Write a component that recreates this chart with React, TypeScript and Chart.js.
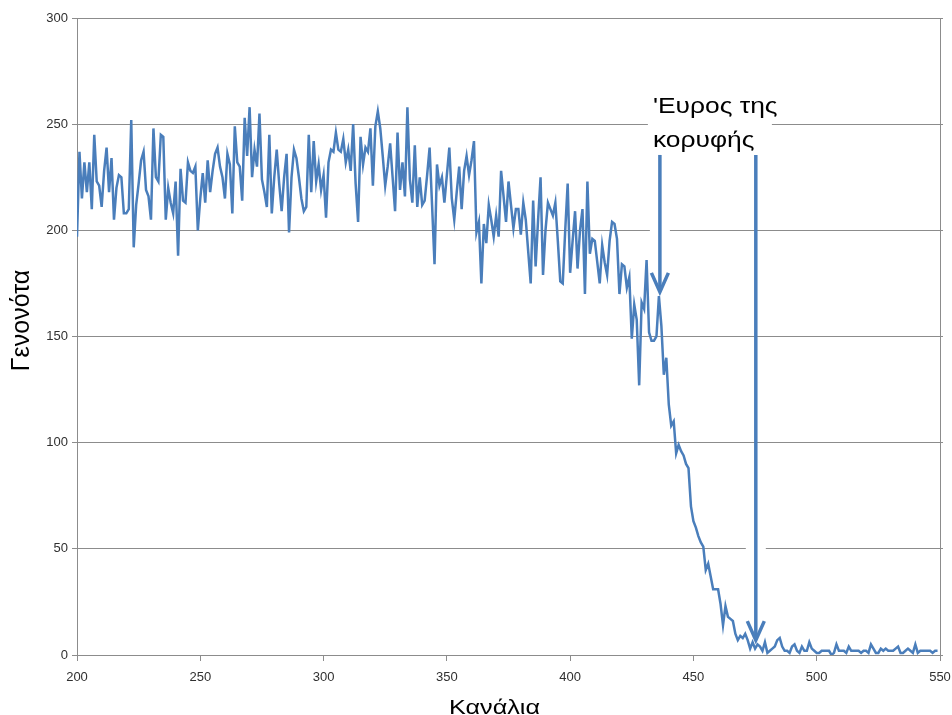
import React, { useEffect, useRef } from 'react';
import { Chart, registerables } from 'chart.js';

Chart.register(...registerables);

// ---- data ----
const firstChannel = 200;
// counts per channel, channels 200..549
const counts: number[] = [
  197, 237, 215, 232, 218, 232, 210, 245, 223, 221,
  211, 228, 239, 218, 234, 205, 220, 226, 225, 208,
  208, 210, 252, 192, 212, 222, 233, 237, 219, 216,
  205, 248, 225, 223, 245, 244, 205, 220, 213, 208,
  223, 188, 229, 214, 213, 232, 228, 227, 230, 200,
  215, 227, 213, 233, 218, 228, 236, 239, 230, 225,
  215, 236, 231, 208, 249, 232, 230, 214, 253, 235,
  258, 225, 238, 230, 255, 224, 218, 211, 245, 208,
  225, 238, 222, 209, 225, 236, 199, 225, 238, 234,
  225, 215, 209, 211, 245, 218, 242, 223, 231, 219,
  226, 206, 232, 238, 237, 246, 238, 237, 243, 232,
  238, 228, 250, 222, 204, 244, 231, 239, 237, 248,
  221, 249, 256, 248, 235, 221, 230, 241, 225, 209,
  246, 219, 232, 216, 258, 224, 213, 240, 211, 225,
  212, 214, 226, 239, 212, 184, 231, 221, 225, 213,
  226, 239, 215, 205, 218, 230, 210, 228, 235, 226,
  233, 242, 199, 204, 175, 203, 194, 212, 205, 197,
  207, 197, 228, 216, 204, 223, 212, 201, 210, 210,
  198, 213, 205, 190, 175, 214, 183, 205, 225, 179,
  200, 213, 210, 207, 213, 195, 176, 175, 200, 222,
  180, 195, 209, 182, 200, 210, 170, 223, 189, 196,
  195, 185, 175, 193, 185, 179, 195, 204, 203, 196,
  170, 184, 183, 173, 178, 149, 165, 158, 127, 166,
  163, 186, 152, 148, 148, 150, 169, 155, 132, 140,
  118, 108, 110, 95, 99, 96, 94, 90, 88, 70,
  63, 60, 56, 53, 51, 40, 43, 37, 31, 31,
  31, 24, 14, 23, 18, 17, 16, 10, 7, 9,
  8, 10, 7, 3, 6, 3, 5, 4, 2, 6,
  1, 2, 3, 4, 7, 8, 4, 2, 2, 1,
  4, 5, 2, 1, 4, 2, 2, 6, 3, 2,
  1, 1, 2, 2, 2, 2, 0, 1, 5, 2,
  2, 2, 1, 4, 2, 2, 2, 2, 1, 2,
  2, 1, 5, 3, 1, 1, 3, 2, 3, 2,
  2, 2, 3, 4, 1, 1, 2, 3, 2, 1,
  5, 1, 2, 2, 2, 2, 2, 1, 2, 2,
];

const xMin = 200;
const xMax = 550;
const xStep = 50;
const yMin = 0;
const yMax = 300;
const yStep = 50;

const xTitle = 'Κανάλια';
const yTitle = 'Γενονότα';
const noteLines = ["'Ευρος της", 'κορυφής'];

// arrows: channel position, start count (top) and tip count
const arrowChannels = [436.4, 475.3];
const arrowTopCounts = [235.5, 235.5];
const arrowTipCounts = [171, 7];
// gridline value where each arrow breaks the gridline
const arrowGapCounts = [200, 50];

const LINE_BLUE = '#4a7ebb';
const GRID = '#8c8c8c';
const TICK_TEXT = '#303030';

const annotationPlugin = {
  id: 'peakAnnotation',
  beforeDatasetsDraw(chart: any) {
    const { ctx, scales } = chart;
    const x = scales.x;
    const y = scales.y;
    ctx.save();
    ctx.fillStyle = '#ffffff';
    // text background box
    const ax = x.getPixelForValue(arrowChannels[0]);
    ctx.fillRect(ax - 12, 90, 124, 62);
    // gridline gaps around arrows
    arrowChannels.forEach((ch, i) => {
      const px = x.getPixelForValue(ch);
      const py = y.getPixelForValue(arrowGapCounts[i]);
      ctx.fillRect(px - 10, py - 2, 20, 4);
    });
    ctx.restore();
  },
  afterDatasetsDraw(chart: any) {
    const { ctx, scales } = chart;
    const x = scales.x;
    const y = scales.y;
    ctx.save();
    ctx.strokeStyle = LINE_BLUE;
    ctx.lineWidth = 3.5;
    ctx.lineCap = 'butt';
    ctx.lineJoin = 'miter';
    arrowChannels.forEach((ch, i) => {
      const px = x.getPixelForValue(ch);
      const top = y.getPixelForValue(arrowTopCounts[i]);
      const tip = y.getPixelForValue(arrowTipCounts[i]);
      ctx.beginPath();
      ctx.moveTo(px, top);
      ctx.lineTo(px, tip - 3);
      ctx.stroke();
      ctx.beginPath();
      ctx.moveTo(px - 8.5, tip - 19);
      ctx.lineTo(px, tip);
      ctx.lineTo(px + 8.5, tip - 19);
      ctx.stroke();
    });
    // note text
    const ax = x.getPixelForValue(arrowChannels[0]);
    ctx.fillStyle = '#000000';
    ctx.font = '22px "Liberation Sans", Arial, sans-serif';
    ctx.textAlign = 'left';
    ctx.textBaseline = 'alphabetic';
    const baselines = [113, 147];
    noteLines.forEach((t, i) => {
      ctx.save();
      ctx.translate(ax - 7, baselines[i]);
      ctx.scale(1.2, 1);
      ctx.fillText(t, 0, 0);
      ctx.restore();
    });
    ctx.restore();
  },
  afterDraw(chart: any) {
    const { ctx, chartArea } = chart;
    ctx.save();
    ctx.fillStyle = '#000000';
    ctx.textAlign = 'center';
    ctx.textBaseline = 'alphabetic';
    // x title
    ctx.font = '21px "Liberation Sans", Arial, sans-serif';
    ctx.save();
    ctx.translate((chartArea.left + chartArea.right) / 2 - 14, 714);
    ctx.scale(1.2, 1);
    ctx.fillText(xTitle, 0, 0);
    ctx.restore();
    // y title
    ctx.font = '25px "Liberation Sans", Arial, sans-serif';
    ctx.save();
    ctx.translate(29, (chartArea.top + chartArea.bottom) / 2 - 16);
    ctx.rotate(-Math.PI / 2);
    ctx.fillText(yTitle, 0, 0);
    ctx.restore();
    ctx.restore();
  },
};

export default function App() {
  const canvasRef = useRef<HTMLCanvasElement | null>(null);

  useEffect(() => {
    if (!canvasRef.current) return;
    const points = counts.map((c, i) => ({ x: firstChannel + i, y: c }));
    const tickFont = { family: '"Liberation Sans", Arial, sans-serif', size: 13 };
    const chart = new Chart(canvasRef.current, {
      type: 'line',
      data: {
        datasets: [
          {
            label: 'counts',
            data: points,
            borderColor: LINE_BLUE,
            backgroundColor: LINE_BLUE,
            borderWidth: 2.5,
            pointRadius: 0,
            tension: 0,
            fill: false,
          },
        ],
      },
      options: {
        animation: false,
        responsive: true,
        maintainAspectRatio: false,
        devicePixelRatio: 1,
        layout: { padding: { left: 0, right: 0, top: 18, bottom: 0 } },
        plugins: {
          legend: { display: false },
          tooltip: { enabled: false },
        },
        scales: {
          x: {
            type: 'linear',
            min: xMin,
            max: xMax,
            ticks: { stepSize: xStep, font: tickFont, color: TICK_TEXT, padding: 9, maxRotation: 0 },
            grid: { drawOnChartArea: false, drawTicks: true, tickLength: 6, color: GRID },
            border: { display: true, color: GRID, width: 1 },
            afterFit: (s: any) => { s.height = 60; s.paddingRight = 0; },
          },
          y: {
            min: yMin,
            max: yMax,
            ticks: { stepSize: yStep, font: tickFont, color: TICK_TEXT, padding: 4 },
            grid: { drawOnChartArea: true, drawTicks: true, tickLength: 5, color: GRID, lineWidth: 1 },
            border: { display: true, color: GRID, width: 1 },
            afterFit: (s: any) => { s.width = 77; },
          },
          y2: {
            position: 'right',
            min: yMin,
            max: yMax,
            ticks: { stepSize: yStep, display: false },
            grid: { drawOnChartArea: false, drawTicks: true, tickLength: 3, color: GRID },
            border: { display: true, color: GRID, width: 1 },
            afterFit: (s: any) => { s.width = 12; },
          },
        },
      },
      plugins: [annotationPlugin],
    } as any);
    return () => chart.destroy();
  }, []);

  return (
    <div style={{ position: 'fixed', left: 0, top: 0, width: 952, height: 715, background: '#ffffff' }}>
      <canvas ref={canvasRef} />
    </div>
  );
}
